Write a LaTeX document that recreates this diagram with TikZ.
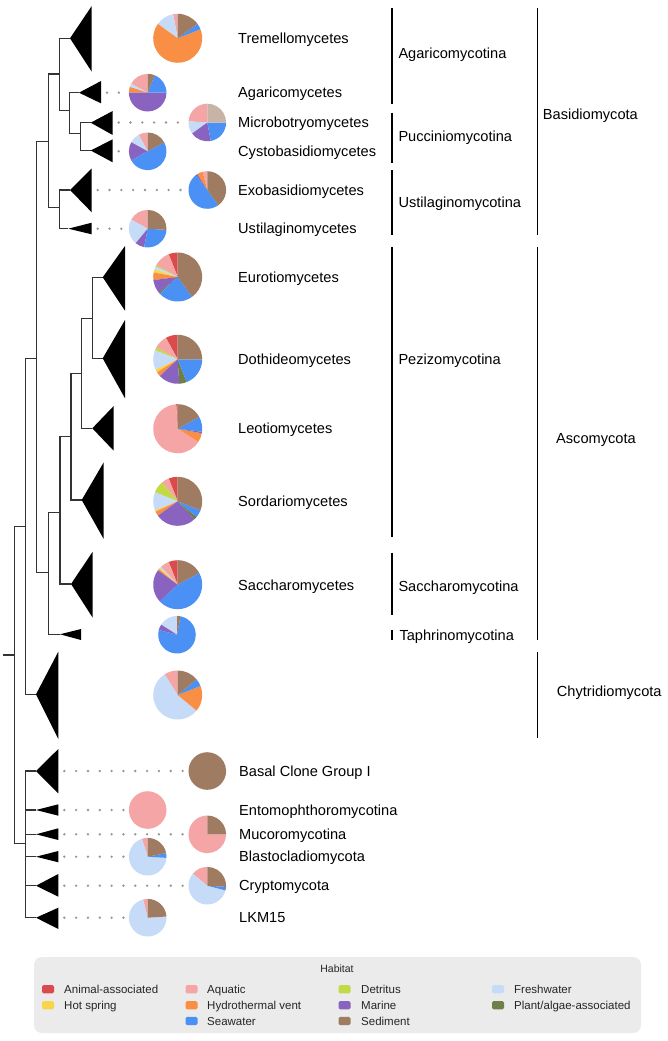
\documentclass[tikz,border=0pt]{standalone}
\usepackage{fontspec}
\setmainfont{Liberation Sans}
\definecolor{cAni}{HTML}{DC4B4B}
\definecolor{cAqu}{HTML}{F5A5A5}
\definecolor{cDet}{HTML}{C3DA46}
\definecolor{cFre}{HTML}{C6DBF8}
\definecolor{cHot}{HTML}{F8D54B}
\definecolor{cHyd}{HTML}{F98F45}
\definecolor{cMar}{HTML}{8A63C1}
\definecolor{cPla}{HTML}{6E7F47}
\definecolor{cSea}{HTML}{4B91F5}
\definecolor{cSed}{HTML}{9F7B62}
\definecolor{cTan}{HTML}{C8B4A7}
\definecolor{legbg}{HTML}{EBEBEB}
\newcommand{\drawpie}[3]{%
  \gdef\pieang{90}%
  \foreach \pc/\pv in {#3}{%
    \pgfmathsetmacro\pieend{\pieang+3.6*\pv}%
    \fill[\pc] (#1) -- ++(\pieang:#2) arc[start angle=\pieang, end angle=\pieend, radius=#2] -- cycle;%
    \xdef\pieang{\pieend}%
  }}
\begin{document}
\begin{tikzpicture}[x=1pt,y=1pt,
  branch/.style={draw=black!80, line width=1.1pt},
  clade/.style={fill=black},
  dotline/.style={draw=black!42, line width=2.6pt, line cap=round, dash pattern=on 0pt off 11.83pt},
  lab/.style={anchor=base west, inner sep=0pt, yshift=-5.2pt, font=\fontsize{14.6}{17}\selectfont},
  brk/.style={draw=black, line width=1.2pt},
  legtxt/.style={anchor=base west, inner sep=0pt, yshift=-4.1pt, font=\fontsize{11.5}{13}\selectfont, text=black!85},
  legsq/.style={rounded corners=1.5pt}
  ]
\fill[white] (0,0) rectangle (668,-1041);
\useasboundingbox (0,0) rectangle (668,-1041);

% ---------- internal nodes ----------
\coordinate (nRoot) at (14.3,-655);
\coordinate (nDC) at (25.7,-526.7);
\coordinate (nDik) at (36.7,-358.3);
\coordinate (nBas) at (48.3,-141.7);
\coordinate (nAgc) at (59.3,-74);
\coordinate (nB) at (69.3,-110.7);
\coordinate (nC) at (80.7,-133.3);
\coordinate (nUst) at (59.3,-207.7);
\coordinate (nAsc) at (48.3,-572.7);
\coordinate (nPS) at (60,-512.7);
\coordinate (nPez) at (71,-436.7);
\coordinate (nLED) at (81.7,-373.3);
\coordinate (nED) at (92.3,-318.3);
\coordinate (nBasal) at (25.7,-843.3);
\coordinate (rootend) at (3.3,-655);

% ---------- clade apexes ----------
\coordinate (aTre) at (70,-38.3);
\coordinate (aAga) at (79,-92.7);
\coordinate (aMic) at (90.7,-122.7);
\coordinate (aCys) at (90.7,-150.5);
\coordinate (aExo) at (70,-190);
\coordinate (aUst) at (68.3,-228.7);
\coordinate (aEur) at (102.7,-277.3);
\coordinate (aDot) at (102.7,-358.3);
\coordinate (aLeo) at (92.3,-428.3);
\coordinate (aSor) at (81.7,-500);
\coordinate (aSac) at (71,-584);
\coordinate (aTap) at (60,-634.3);
\coordinate (aChy) at (36,-694.3);
\coordinate (aBCG) at (36,-771);
\coordinate (aEnt) at (36,-810);
\coordinate (aMuc) at (36,-834.3);
\coordinate (aBla) at (36,-856.7);
\coordinate (aCry) at (36,-885.7);
\coordinate (aLKM) at (36,-917.7);

% ---------- branches ----------
\draw[branch] (rootend) -- (nRoot);
\draw[branch] (nRoot) |- (nDC);
\draw[branch] (nRoot) |- (nBasal);
\draw[branch] (nDC) |- (nDik);
\draw[branch] (nDC) |- (aChy);
\draw[branch] (nDik) |- (nBas);
\draw[branch] (nDik) |- (nAsc);
\draw[branch] (nBas) |- (nAgc);
\draw[branch] (nBas) |- (nUst);
\draw[branch] (nAgc) |- (aTre);
\draw[branch] (nAgc) |- (nB);
\draw[branch] (nB) |- (aAga);
\draw[branch] (nB) |- (nC);
\draw[branch] (nC) |- (aMic);
\draw[branch] (nC) |- (aCys);
\draw[branch] (nUst) |- (aExo);
\draw[branch] (nUst) |- (aUst);
\draw[branch] (nAsc) |- (nPS);
\draw[branch] (nAsc) |- (aTap);
\draw[branch] (nPS) |- (nPez);
\draw[branch] (nPS) |- (aSac);
\draw[branch] (nPez) |- (nLED);
\draw[branch] (nPez) |- (aSor);
\draw[branch] (nLED) |- (nED);
\draw[branch] (nLED) |- (aLeo);
\draw[branch] (nED) |- (aEur);
\draw[branch] (nED) |- (aDot);
\foreach \a in {aBCG,aEnt,aMuc,aBla,aCry,aLKM} {\draw[branch] (nBasal) |- (\a);}

% ---------- collapsed clades ----------
\fill[clade] (aTre) -- (91.7,-6) -- (91.7,-71.7) -- cycle;
\fill[clade] (aAga) -- (101,-81) -- (101,-103.3) -- cycle;
\fill[clade] (aMic) -- (112.7,-111) -- (112.7,-135) -- cycle;
\fill[clade] (aCys) -- (112.7,-139.3) -- (112.7,-162.3) -- cycle;
\fill[clade] (aExo) -- (91.7,-168.3) -- (91.7,-212.3) -- cycle;
\fill[clade] (aUst) -- (91.7,-222.7) -- (91.7,-234.3) -- cycle;
\fill[clade] (aEur) -- (125,-246) -- (125,-310.7) -- cycle;
\fill[clade] (aDot) -- (125,-320) -- (125,-398.3) -- cycle;
\fill[clade] (aLeo) -- (113.7,-406) -- (113.7,-450.7) -- cycle;
\fill[clade] (aSor) -- (103.7,-462.3) -- (103.7,-539) -- cycle;
\fill[clade] (aSac) -- (92.7,-551.7) -- (92.7,-617.7) -- cycle;
\fill[clade] (aTap) -- (81,-629) -- (81,-640) -- cycle;
\fill[clade] (aChy) -- (58.3,-651.7) -- (58.3,-739) -- cycle;
\fill[clade] (aBCG) -- (58.3,-749) -- (58.3,-793.3) -- cycle;
\fill[clade] (aEnt) -- (58.3,-804.3) -- (58.3,-815.7) -- cycle;
\fill[clade] (aMuc) -- (58.3,-828.3) -- (58.3,-840) -- cycle;
\fill[clade] (aBla) -- (58.3,-851) -- (58.3,-862.3) -- cycle;
\fill[clade] (aCry) -- (58.3,-874) -- (58.3,-896.7) -- cycle;
\fill[clade] (aLKM) -- (58.3,-907.7) -- (58.3,-929) -- cycle;

% ---------- pie centres ----------
\coordinate (pTre) at (177.7,-38.3);
\coordinate (pAga) at (147.7,-92.7);
\coordinate (pMic) at (207.3,-122.5);
\coordinate (pCys) at (147.7,-151.3);
\coordinate (pExo) at (207.3,-190);
\coordinate (pUst) at (147.7,-228.7);
\coordinate (pEur) at (177.7,-277);
\coordinate (pDot) at (177.7,-359.3);
\coordinate (pLeo) at (177.7,-428.7);
\coordinate (pSor) at (177.7,-501.3);
\coordinate (pSac) at (177.7,-584.7);
\coordinate (pTap) at (177,-634.7);
\coordinate (pChy) at (177.7,-695);
\coordinate (pBCG) at (207.3,-771);
\coordinate (pEnt) at (147.7,-810);
\coordinate (pMuc) at (207.3,-834.3);
\coordinate (pBla) at (147.7,-856.7);
\coordinate (pCry) at (207.3,-885.7);
\coordinate (pLKM) at (147.7,-917.7);

% ---------- dotted connectors ----------
\draw[dotline] ([xshift=6pt]101,-92.7) -- ([xshift=-22.8pt]pAga);
\draw[dotline] ([xshift=6pt]112.7,-122.5) -- ([xshift=-22.8pt]pMic);
\draw[dotline] ([xshift=6pt]112.7,-151.3) -- ([xshift=-22.8pt]pCys);
\draw[dotline] ([xshift=6pt]91.7,-190) -- ([xshift=-22.8pt]pExo);
\draw[dotline] ([xshift=6pt]91.7,-228.7) -- ([xshift=-22.8pt]pUst);
\draw[dotline] ([xshift=6pt]58.3,-771) -- ([xshift=-22.8pt]pBCG);
\draw[dotline] ([xshift=6pt]58.3,-810) -- ([xshift=-22.8pt]pEnt);
\draw[dotline] ([xshift=6pt]58.3,-834.3) -- ([xshift=-22.8pt]pMuc);
\draw[dotline] ([xshift=6pt]58.3,-856.7) -- ([xshift=-22.8pt]pBla);
\draw[dotline] ([xshift=6pt]58.3,-885.7) -- ([xshift=-22.8pt]pCry);
\draw[dotline] ([xshift=6pt]58.3,-917.7) -- ([xshift=-22.8pt]pLKM);

% ---------- pies (counter-clockwise from top) ----------
\drawpie{pTre}{24.5}{cAqu/3,cFre/12,cHyd/66,cSea/4,cSed/15}
\drawpie{pAga}{18.8}{cAqu/17,cFre/3,cHyd/5,cMar/50,cSea/19,cSed/6}
\drawpie{pMic}{18.8}{cAqu/24,cFre/11,cMar/18,cSea/22,cTan/25}
\drawpie{pCys}{18.8}{cAqu/8,cFre/9,cMar/16,cSea/50,cSed/17}
\drawpie{pExo}{18.8}{cAqu/4,cHyd/5,cMar/1.5,cSea/49.5,cSed/40}
\drawpie{pUst}{18.8}{cAqu/17,cFre/22,cMar/8,cSea/27,cSed/26}
\drawpie{pEur}{24.5}{cAni/6,cAqu/11,cDet/1,cFre/2,cHot/2,cHyd/5,cMar/9,cPla/1,cSea/23,cSed/40}
\drawpie{pDot}{24.5}{cAni/8,cAqu/9,cDet/2,cFre/13,cHot/2,cHyd/3,cMar/14,cPla/5,cSea/19,cSed/25}
\drawpie{pLeo}{24.5}{cAni/1,cAqu/65,cHyd/6,cMar/1,cSea/10,cSed/17}
\drawpie{pSor}{24.5}{cAni/6,cAqu/5,cDet/8,cFre/12,cHot/1,cHyd/3,cMar/27,cPla/2,cSea/5,cSed/31}
\drawpie{pSac}{24.5}{cAni/6,cAqu/6,cFre/1,cHot/1,cHyd/1,cMar/22,cSea/46,cSed/17}
\drawpie{pTap}{18.8}{cFre/16,cMar/5,cSea/76,cSed/3}
\drawpie{pChy}{24.5}{cAqu/9,cFre/55,cHyd/17,cSea/5,cSed/14}
\drawpie{pBCG}{18.8}{cSed/100}
\drawpie{pEnt}{18.8}{cAqu/100}
\drawpie{pMuc}{18.8}{cAqu/75,cSed/25}
\drawpie{pBla}{18.8}{cAqu/5,cFre/69,cSea/4,cSed/22}
\drawpie{pCry}{18.8}{cAqu/14,cFre/57,cSea/3,cSed/26}
\drawpie{pLKM}{18.8}{cAqu/4,cFre/72,cSed/24}

% ---------- clade labels ----------
\node[lab] (lTre) at (238,-38.3) {Tremellomycetes};
\node[lab] (lAga) at (238,-92.7) {Agaricomycetes};
\node[lab] (lMic) at (238,-122.3) {Microbotryomycetes};
\node[lab] (lCys) at (238,-151.7) {Cystobasidiomycetes};
\node[lab] (lExo) at (238,-190) {Exobasidiomycetes};
\node[lab] (lUst) at (238,-228.7) {Ustilaginomycetes};
\node[lab] (lEur) at (238,-277.5) {Eurotiomycetes};
\node[lab] (lDot) at (238,-359.3) {Dothideomycetes};
\node[lab] (lLeo) at (238,-428.7) {Leotiomycetes};
\node[lab] (lSor) at (238,-501.3) {Sordariomycetes};
\node[lab] (lSac) at (238,-585.5) {Saccharomycetes};
\node[lab] (lBCG) at (239,-771) {Basal Clone Group I};
\node[lab] (lEnt) at (239,-810) {Entomophthoromycotina};
\node[lab] (lMuc) at (239,-834.3) {Mucoromycotina};
\node[lab] (lBla) at (239,-856.7) {Blastocladiomycota};
\node[lab] (lCry) at (239,-885.3) {Cryptomycota};
\node[lab] (lLKM) at (239,-917.7) {LKM15};

% ---------- subphylum brackets ----------
\draw[brk] (392,-8.3) -- (392,-104);
\node[lab] (bAgc) at (398.3,-53.3) {Agaricomycotina};
\draw[brk] (392,-112.7) -- (392,-162.7);
\node[lab] (bPuc) at (398.3,-136.7) {Pucciniomycotina};
\draw[brk] (392,-170) -- (392,-235);
\node[lab] (bUst) at (398.3,-202.3) {Ustilaginomycotina};
\draw[brk] (392,-247) -- (392,-537);
\node[lab] (bPez) at (398.3,-359) {Pezizomycotina};
\draw[brk] (392,-552.7) -- (392,-615);
\node[lab] (bSac) at (398.3,-586.7) {Saccharomycotina};
\draw[brk] (392,-630) -- (392,-640);
\node[lab] (bTap) at (399.3,-635.7) {Taphrinomycotina};

% ---------- phylum brackets ----------
\draw[brk] (537.3,-8.3) -- (537.3,-235);
\node[lab] (pyBas) at (542.7,-114.3) {Basidiomycota};
\draw[brk] (537.3,-247) -- (537.3,-640);
\node[lab] (pyAsc) at (556,-438) {Ascomycota};
\draw[brk] (537.3,-651.7) -- (537.3,-738.3);
\node[lab] (pyChy) at (556.7,-691.7) {Chytridiomycota};

% ---------- legend ----------
\fill[legbg, rounded corners=8pt] (34,-957) rectangle (641,-1033);
\node[font=\fontsize{10.5}{12}\selectfont, text=black!85] (legtitle) at (337,-968.3) {Habitat};
\fill[cAni, legsq] (42,-985.2) rectangle (54,-993.4);
\node[legtxt] (t1) at (64,-989.3) {Animal-associated};
\fill[cHot, legsq] (42,-1001.2) rectangle (54,-1009.4);
\node[legtxt] (t2) at (64,-1005.3) {Hot spring};
\fill[cAqu, legsq] (185.5,-985.2) rectangle (197.5,-993.4);
\node[legtxt] (t3) at (207,-989.3) {Aquatic};
\fill[cHyd, legsq] (185.5,-1001.2) rectangle (197.5,-1009.4);
\node[legtxt] (t4) at (207,-1005.3) {Hydrothermal vent};
\fill[cSea, legsq] (185.5,-1016.9) rectangle (197.5,-1025.1);
\node[legtxt] (t5) at (207,-1021) {Seawater};
\fill[cDet, legsq] (338.5,-985.2) rectangle (350.5,-993.4);
\node[legtxt] (t6) at (361,-989.3) {Detritus};
\fill[cMar, legsq] (338.5,-1001.2) rectangle (350.5,-1009.4);
\node[legtxt] (t7) at (361,-1005.3) {Marine};
\fill[cSed, legsq] (338.5,-1016.9) rectangle (350.5,-1025.1);
\node[legtxt] (t8) at (361,-1021) {Sediment};
\fill[cFre, legsq] (492,-985.2) rectangle (504,-993.4);
\node[legtxt] (t9) at (514,-989.3) {Freshwater};
\fill[cPla, legsq] (492,-1001.2) rectangle (504,-1009.4);
\node[legtxt] (t10) at (514,-1005.3) {Plant/algae-associated};
\end{tikzpicture}
\end{document}
